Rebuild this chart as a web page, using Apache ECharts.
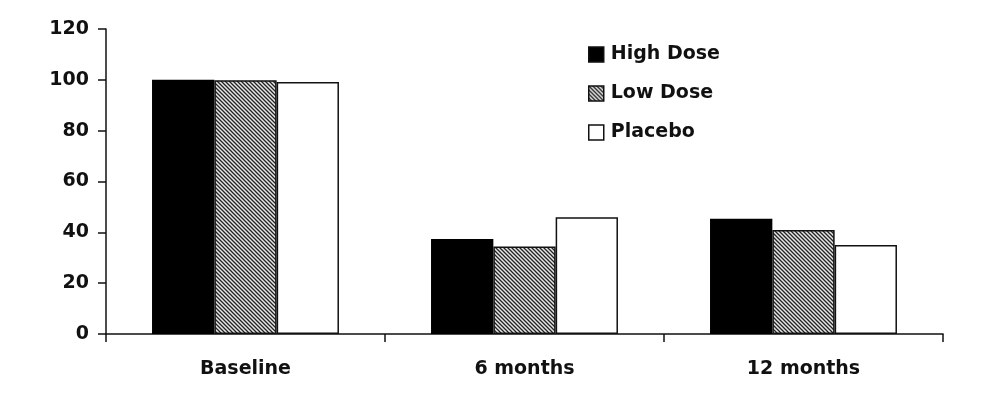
<!DOCTYPE html>
<html>
<head>
<meta charset="utf-8">
<script src="https://cdn.jsdelivr.net/npm/echarts@6/dist/echarts.min.js"></script>
<style>
    html, body {margin: 0; padding: 0; background: #fff;}
    #main {width: 986px; height: 398px;}
</style>
</head>
<body>
<div id="main"></div>
<script>
var categories = ['Baseline', '6 months', '12 months'];
var seriesNames = ['High Dose', 'Low Dose', 'Placebo'];
var highDose = [100, 37.4, 45.3];
var lowDose = [99.8, 34.4, 40.9];
var placebo = [99.1, 45.9, 35.0];

//斜线填充
function hatch() {
    var c = document.createElement('canvas');
    c.width = 4;
    c.height = 4;
    var ctx = c.getContext('2d');
    ctx.fillStyle = '#e6e6e6';
    ctx.fillRect(0, 0, 4, 4);
    ctx.strokeStyle = '#222';
    ctx.lineWidth = 1.3;
    ctx.beginPath();
    ctx.moveTo(-1, -1); ctx.lineTo(5, 5);
    ctx.moveTo(-1, 3); ctx.lineTo(1, 5);
    ctx.moveTo(3, -1); ctx.lineTo(5, 1);
    ctx.stroke();
    return c;
}

var font = 'DejaVu Sans';
var chart = echarts.init(document.getElementById('main'));
var option = {
    animation: false,
    backgroundColor: '#fff',
    grid: {left: 106, right: 43, top: 29, bottom: 64},
    legend: {
        orient: 'vertical',
        left: 583,
        top: 40,
        icon: 'rect',
        itemWidth: 15,
        itemHeight: 15,
        itemGap: 20,
        data: seriesNames,
        itemStyle: {borderColor: '#111', borderWidth: 1.5},
        textStyle: {fontFamily: font, fontWeight: 'bold', fontSize: 19, color: '#111', padding: [0, 0, 0, 2]}
    },
    xAxis: {
        type: 'category',
        data: categories,
        axisLine: {lineStyle: {color: '#111', width: 1.5}},
        axisTick: {show: true, length: 8, lineStyle: {color: '#111', width: 1.5}},
        axisLabel: {margin: 26, fontFamily: font, fontWeight: 'bold', fontSize: 19, color: '#111'}
    },
    yAxis: {
        type: 'value',
        min: 0,
        max: 120,
        interval: 20,
        splitLine: {show: false},
        axisLine: {show: true, lineStyle: {color: '#111', width: 1.5}},
        axisTick: {show: true, length: 8, lineStyle: {color: '#111', width: 1.5}},
        axisLabel: {margin: 17, fontFamily: font, fontWeight: 'bold', fontSize: 19, color: '#111'}
    },
    series: [
        {
            name: seriesNames[0],
            type: 'bar',
            barGap: 0,
            barCategoryGap: '33%',
            data: highDose,
            itemStyle: {color: '#000', borderColor: '#000', borderWidth: 1.5}
        },
        {
            name: seriesNames[1],
            type: 'bar',
            data: lowDose,
            itemStyle: {color: {image: hatch(), repeat: 'repeat'}, borderColor: '#111', borderWidth: 1.5}
        },
        {
            name: seriesNames[2],
            type: 'bar',
            data: placebo,
            itemStyle: {color: '#fff', borderColor: '#111', borderWidth: 1.5}
        }
    ]
};
chart.setOption(option);
</script>
</body>
</html>
